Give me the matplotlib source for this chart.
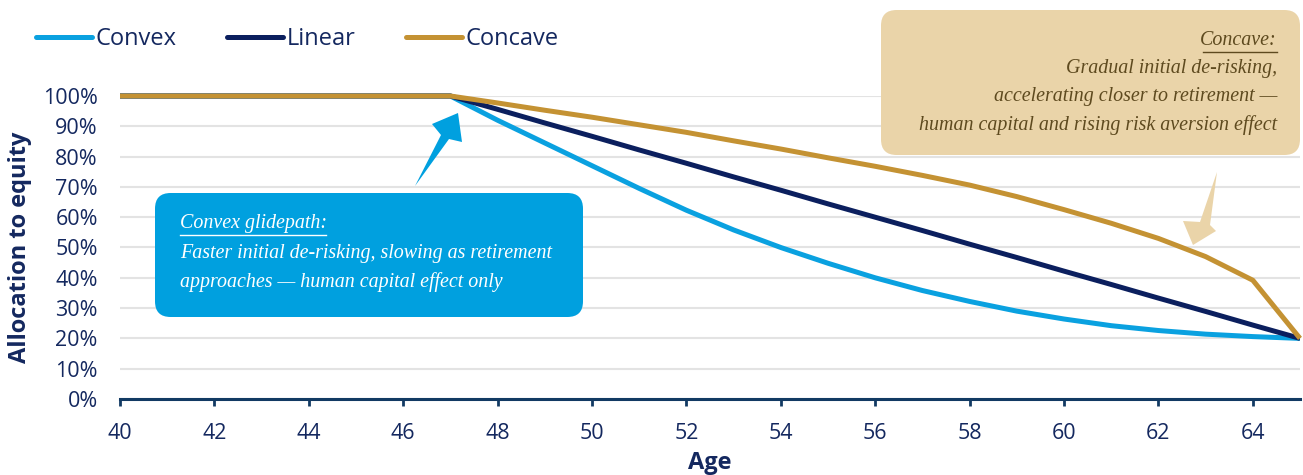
import matplotlib
matplotlib.use("Agg")
import matplotlib.pyplot as plt
from matplotlib.patches import FancyBboxPatch, Polygon

# glidepath data (allocation to equity, %)
ages = list(range(40, 66))
convex = [100, 100, 100, 100, 100, 100, 100, 100,
          92, 84.5, 77, 69.5, 62.3, 55.8, 50, 44.8, 40, 35.8, 32.2,
          29, 26.4, 24.2, 22.6, 21.4, 20.6, 20]
linear = [100, 100, 100, 100, 100, 100, 100, 100,
          95.6, 91.1, 86.7, 82.2, 77.8, 73.3, 68.9, 64.4, 60, 55.6, 51.1,
          46.7, 42.2, 37.8, 33.3, 28.9, 24.4, 20]
concave = [100, 100, 100, 100, 100, 100, 100, 100,
           97.7, 95.3, 93, 90.5, 88, 85.2, 82.5, 79.6, 76.8, 73.8, 70.6,
           66.8, 62.5, 58, 53, 47, 39.2, 20]

series_names = ["Convex", "Linear", "Concave"]
colors = ["#0AA1E0", "#0B1F5E", "#C49233"]
navy = "#14285F"

W, H = 1303, 475
fig = plt.figure(figsize=(W / 100, H / 100), dpi=100)
ax = fig.add_axes([120 / W, 1 - 399 / H, (1300 - 120) / W, (399 - 96) / H])

def px(x, y):
    # pixel position -> figure fraction
    return (x / W, 1 - y / H)

for name, vals, c, z in zip(series_names, [convex, linear, concave], colors, [3, 4, 5]):
    ax.plot(ages, vals, color=c, lw=3.6, label=name, zorder=z, clip_on=False,
            solid_capstyle="butt", solid_joinstyle="round")

ax.set_xlim(40, 65)
ax.set_ylim(0, 100)
ax.set_xticks(range(40, 65, 2))
ax.set_yticks(range(0, 101, 10))
ax.set_yticklabels([f"{v}%" for v in range(0, 101, 10)])
ax.grid(axis="y", color="#E3E3E3", lw=1.5, zorder=0)
ax.set_axisbelow(True)
for s in ["top", "right", "left"]:
    ax.spines[s].set_visible(False)
ax.spines["bottom"].set_color("#123A63")
ax.spines["bottom"].set_linewidth(2.2)
ax.tick_params(axis="x", colors="#123A63", width=2, length=5, labelcolor=navy,
               labelsize=15.5, pad=12)
ax.tick_params(axis="y", length=0, labelcolor=navy, labelsize=15.5, pad=16)
for lab in ax.get_xticklabels() + ax.get_yticklabels():
    lab.set_family("Open Sans")

ax.set_xlabel("Age", fontsize=17, fontweight="bold", color=navy, family="Open Sans", labelpad=5)
ax.set_ylabel("Allocation to equity", fontsize=17, fontweight="bold", color=navy,
              family="Open Sans", labelpad=8)

leg = fig.legend(loc="center left", bbox_to_anchor=px(36, 39), ncol=3, frameon=False,
                 handlelength=2.37, handletextpad=0.15, columnspacing=2.15,
                 borderpad=0, borderaxespad=0,
                 prop={"family": "Open Sans", "size": 17})
for t in leg.get_texts():
    t.set_color(navy)
for h in leg.legend_handles:
    h.set_solid_capstyle("round")

# blue callout
x0, y0 = px(155, 317)
x1, y1 = px(583, 193)
fig.patches.append(FancyBboxPatch((x0, y0), x1 - x0, y1 - y0,
                                  boxstyle="round,pad=0,rounding_size=0.012",
                                  transform=fig.transFigure, fc="#00A0DF", ec="none", zorder=6,
                                  mutation_aspect=W / H))
blue_arrow = [(415, 186), (441, 135), (432, 124), (458, 113), (462, 142), (449, 139)]
fig.patches.append(Polygon([px(*p) for p in blue_arrow], closed=True,
                           transform=fig.transFigure, fc="#00A0DF", ec="none", zorder=6))
serif = "Liberation Serif"
fs = 14.4
fig.text(*px(180, 228), "Convex glidepath:", color="white", style="italic", family=serif,
         fontsize=fs, va="baseline", zorder=7)
fig.add_artist(plt.Line2D([180 / W, 326 / W], [1 - 235 / H] * 2, color="white", lw=1,
                          transform=fig.transFigure, zorder=7))
fig.text(*px(180, 258), "Faster initial de-risking, slowing as retirement", color="white",
         style="italic", family=serif, fontsize=fs, va="baseline", zorder=7)
fig.text(*px(180, 287), "approaches \u2014 human capital effect only", color="white",
         style="italic", family=serif, fontsize=fs, va="baseline", zorder=7)

# tan callout
x0, y0 = px(881, 155)
x1, y1 = px(1300, 10)
fig.patches.append(FancyBboxPatch((x0, y0), x1 - x0, y1 - y0,
                                  boxstyle="round,pad=0,rounding_size=0.012",
                                  transform=fig.transFigure, fc="#EAD4A9", ec="none", zorder=6,
                                  mutation_aspect=W / H))
tan_arrow = [(1217, 172), (1210, 225), (1216, 231), (1193, 245), (1183, 221), (1200, 222)]
fig.patches.append(Polygon([px(*p) for p in tan_arrow], closed=True,
                           transform=fig.transFigure, fc="#EAD4A9", ec="none", zorder=6))
brown = "#5E4A1F"
fig.text(*px(1277, 45), "Concave:", color=brown, style="italic", family=serif,
         fontsize=fs, ha="right", va="baseline", zorder=7)
fig.add_artist(plt.Line2D([1203 / W, 1277 / W], [1 - 52 / H] * 2, color=brown, lw=1,
                          transform=fig.transFigure, zorder=7))
for txt, yy in [("Gradual initial de-risking,", 73),
                ("accelerating closer to retirement \u2014", 101),
                ("human capital and rising risk aversion effect", 130)]:
    fig.text(*px(1277, yy), txt, color=brown, style="italic", family=serif,
             fontsize=fs, ha="right", va="baseline", zorder=7)

fig.savefig("out.png", dpi=100)
